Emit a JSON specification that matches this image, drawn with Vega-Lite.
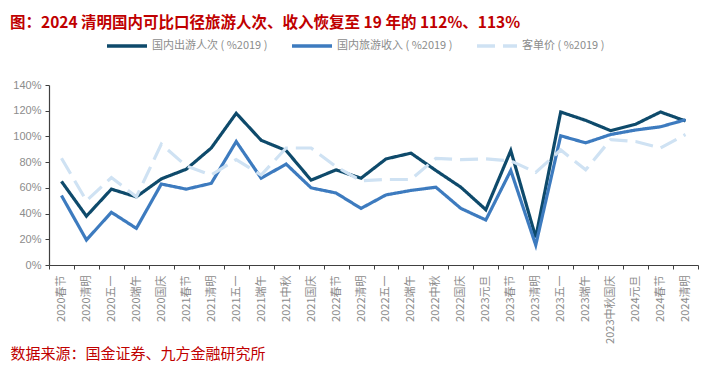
{
  "$schema": "https://vega.github.io/schema/vega-lite/v6.json",
  "width": 649,
  "height": 180,
  "autosize": {"type": "none"},
  "padding": {"left": 49, "top": 85, "right": 13, "bottom": 103},
  "background": "white",
  "title": {
    "text": "图：2024 清明国内可比口径旅游人次、收入恢复至 19 年的 112%、113%",
    "anchor": "start",
    "frame": "group",
    "dx": -39,
    "offset": -7,
    "color": "#C00000",
    "font": "Noto Sans CJK SC",
    "fontSize": 15.5,
    "fontWeight": "bold"
  },
  "config": {
    "view": {"stroke": null},
    "font": "Noto Sans CJK SC"
  },
  "data": {
    "values": [
      {"h": "2020春节", "a": 65, "b": 54, "c": 83},
      {"h": "2020清明", "a": 38, "b": 19.5, "c": 50},
      {"h": "2020五一", "a": 59, "b": 41, "c": 68},
      {"h": "2020端午", "a": 53, "b": 28.5, "c": 53},
      {"h": "2020国庆", "a": 67, "b": 63, "c": 94},
      {"h": "2021春节", "a": 74.5, "b": 59, "c": 77},
      {"h": "2021清明", "a": 91, "b": 63.5, "c": 70},
      {"h": "2021五一", "a": 118, "b": 96, "c": 82},
      {"h": "2021端午", "a": 97, "b": 67.5, "c": 70},
      {"h": "2021中秋", "a": 89, "b": 78.5, "c": 91},
      {"h": "2021国庆", "a": 66, "b": 60, "c": 91},
      {"h": "2022春节", "a": 74, "b": 56, "c": 76.5},
      {"h": "2022清明", "a": 67.5, "b": 44, "c": 65.5},
      {"h": "2022五一", "a": 82.5, "b": 54.5, "c": 66.5},
      {"h": "2022端午", "a": 87, "b": 58, "c": 66.5},
      {"h": "2022中秋", "a": 73.5, "b": 60.5, "c": 83},
      {"h": "2022国庆", "a": 60.5, "b": 44, "c": 82},
      {"h": "2023元旦", "a": 43, "b": 35, "c": 82.5},
      {"h": "2023春节", "a": 89, "b": 73.5, "c": 81},
      {"h": "2023清明", "a": 21.5, "b": 15.5, "c": 72},
      {"h": "2023五一", "a": 119, "b": 100.5, "c": 89.5},
      {"h": "2023端午", "a": 112.5, "b": 95, "c": 74},
      {"h": "2023中秋国庆", "a": 104.5, "b": 101.5, "c": 97.5},
      {"h": "2024元旦", "a": 109.5, "b": 105, "c": 96},
      {"h": "2024春节", "a": 119, "b": 107.5, "c": 91},
      {"h": "2024清明", "a": 112, "b": 113, "c": 101.5}
    ]
  },
  "transform": [
    {"fold": ["a", "b", "c"], "as": ["key", "v"]},
    {"lookup": "key", "from": {"data": {"values": [
      {"key": "a", "s": "国内出游人次 ( %2019 )"},
      {"key": "b", "s": "国内旅游收入 ( %2019 )"},
      {"key": "c", "s": "客单价 ( %2019 )"}
    ]}, "key": "key", "fields": ["s"]}}
  ],
  "mark": {"type": "line", "strokeWidth": 3.2, "strokeCap": "butt", "strokeJoin": "miter"},
  "encoding": {
    "x": {
      "field": "h",
      "type": "nominal",
      "sort": null,
      "scale": {"type": "band", "paddingInner": 0, "paddingOuter": 0},
      "axis": {
        "title": "数据来源：国金证券、九方金融研究所",
        "titleAnchor": "start",
        "titleAlign": "left",
        "titleBaseline": "middle",
        "titleX": -39,
        "titleY": 88,
        "titleColor": "#C00000",
        "titleFontSize": 15,
        "titleFontWeight": "normal",
        "titleFont": "Noto Sans CJK SC",
        "labelAngle": -90,
        "labelColor": "#8C8C8C",
        "labelFontSize": 11,
        "labelPadding": 6,
        "tickBand": "extent",
        "tickColor": "#404040",
        "tickSize": 4,
        "domainColor": "#404040",
        "domainWidth": 1.2,
        "grid": false
      }
    },
    "y": {
      "field": "v",
      "type": "quantitative",
      "scale": {"domain": [0, 140], "nice": false, "zero": true},
      "axis": {
        "title": null,
        "values": [0, 20, 40, 60, 80, 100, 120, 140],
        "labelExpr": "datum.value + '%'",
        "labelColor": "#8C8C8C",
        "labelFontSize": 11,
        "labelFont": "Liberation Sans",
        "labelPadding": 4,
        "tickColor": "#404040",
        "tickSize": 4,
        "domainColor": "#404040",
        "domainWidth": 1.2,
        "grid": false
      }
    },
    "color": {
      "field": "s",
      "type": "nominal",
      "sort": null,
      "scale": {
        "domain": ["国内出游人次 ( %2019 )", "国内旅游收入 ( %2019 )", "客单价 ( %2019 )"],
        "range": ["#0E4A6B", "#3D7BBF", "#CFE2F3"]
      },
      "legend": {
        "title": null,
        "orient": "none",
        "direction": "horizontal",
        "legendX": 56,
        "legendY": -61,
        "symbolType": "stroke",
        "symbolSize": 1600,
        "symbolStrokeWidth": 3.5,
        "labelColor": "#8C8C8C",
        "labelFontSize": 11,
        "labelOffset": 3,
        "columnPadding": 17
      }
    },
    "strokeDash": {
      "field": "s",
      "type": "nominal",
      "sort": null,
      "scale": {
        "domain": ["国内出游人次 ( %2019 )", "国内旅游收入 ( %2019 )", "客单价 ( %2019 )"],
        "range": [[1, 0], [1, 0], [18, 8]]
      },
      "legend": {
        "title": null,
        "orient": "none",
        "direction": "horizontal",
        "legendX": 56,
        "legendY": -61,
        "symbolType": "stroke",
        "symbolSize": 1600,
        "symbolStrokeWidth": 3.5,
        "labelColor": "#8C8C8C",
        "labelFontSize": 11,
        "labelOffset": 3,
        "columnPadding": 17
      }
    }
  }
}
